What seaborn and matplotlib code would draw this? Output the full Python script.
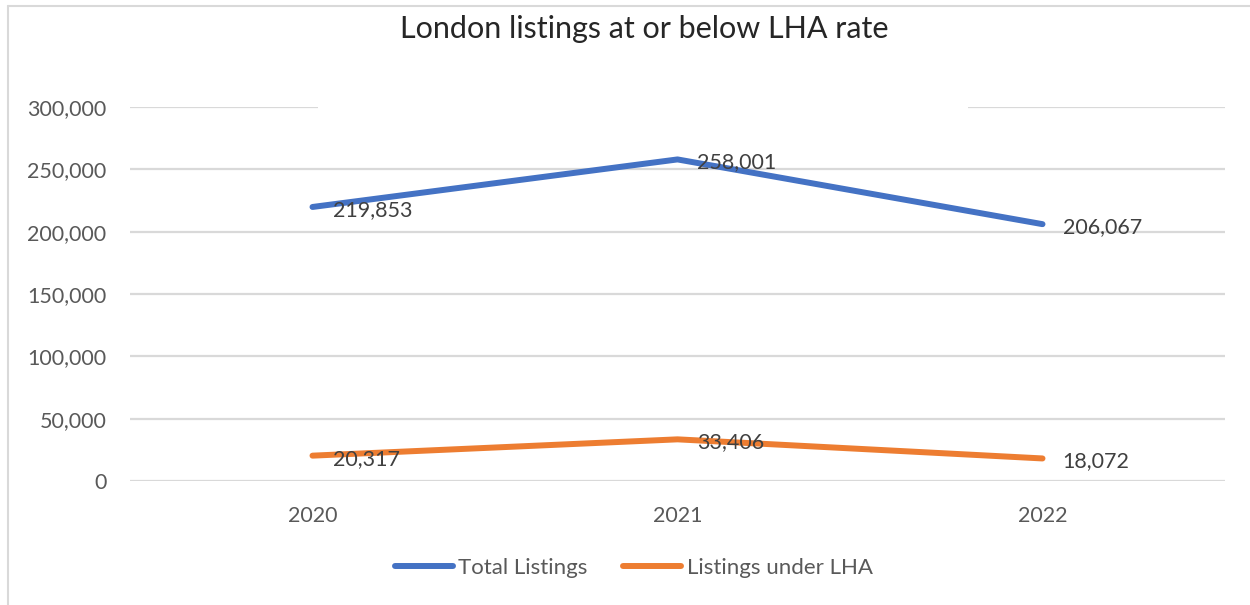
import matplotlib
matplotlib.use("Agg")
import matplotlib.pyplot as plt
import seaborn as sns
import pandas as pd
from matplotlib.lines import Line2D
from matplotlib.patches import Rectangle
from matplotlib.ticker import FuncFormatter

years = ["2020", "2021", "2022"]
total_listings = [219853, 258001, 206067]
under_lha = [20317, 33406, 18072]
series_names = ["Total Listings", "Listings under LHA"]
colors = ["#4472C4", "#ED7D31"]

df = pd.DataFrame({
    "year": years * 2,
    "value": total_listings + under_lha,
    "series": [series_names[0]] * 3 + [series_names[1]] * 3,
})

sns.set_theme(style="white")
plt.rcParams["font.family"] = ["Lato", "DejaVu Sans"]

fig = plt.figure(figsize=(12.5, 6.05), dpi=100)
ax = fig.add_axes([0.104, 0.205, 0.876, 0.618])

sns.lineplot(data=df, x="year", y="value", hue="series", palette=colors,
             linewidth=4.3, sort=False, legend=False, ax=ax,
             solid_capstyle="round", zorder=3)

for vals in (total_listings, under_lha):
    for i, v in enumerate(vals):
        ax.annotate(f"{v:,}", (i, v), xytext=(20, -3), textcoords="offset pixels",
                    ha="left", va="center", fontsize=15.5, color="#404040", zorder=5)

ax.set_xlim(-0.5, 2.5)
ax.set_ylim(0, 300000)
ax.set_yticks(range(0, 300001, 50000))
ax.yaxis.set_major_formatter(FuncFormatter(lambda v, p: f"{int(v):,}"))
ax.grid(axis="y", color="#D9D9D9", linewidth=1.6, zorder=0)
ax.set_axisbelow(True)
for s in ax.spines.values():
    s.set_visible(False)
ax.tick_params(axis="both", length=0, labelsize=15.5, labelcolor="#595959")
ax.tick_params(axis="y", pad=17)
ax.tick_params(axis="x", pad=18)
ax.set_xlabel("")
ax.set_ylabel("")

# the title box hides the middle of the top gridline
ax.add_patch(Rectangle((0.015, 295000), 1.78, 10000, facecolor="white",
                       edgecolor="none", clip_on=False, zorder=1))

fig.suptitle("London listings at or below LHA rate", fontsize=22, color="#262626",
             x=0.515, y=0.975, va="top")

handles = [Line2D([], [], color=c, linewidth=4.3, solid_capstyle="round") for c in colors]
fig.legend(handles, series_names, loc="center", bbox_to_anchor=(0.507, 0.061),
           ncol=2, frameon=False, fontsize=16, labelcolor="#595959",
           handlelength=2.6, handletextpad=0.25, columnspacing=1.6)

# chart area frame (only left and top visible)
fig.add_artist(Line2D([0.0064, 0.0064], [0, 0.99], transform=fig.transFigure,
                      color="#D9D9D9", linewidth=1.5))
fig.add_artist(Line2D([0.0064, 1], [0.99, 0.99], transform=fig.transFigure,
                      color="#D9D9D9", linewidth=1.5))

fig.savefig("out.png", dpi=100)
